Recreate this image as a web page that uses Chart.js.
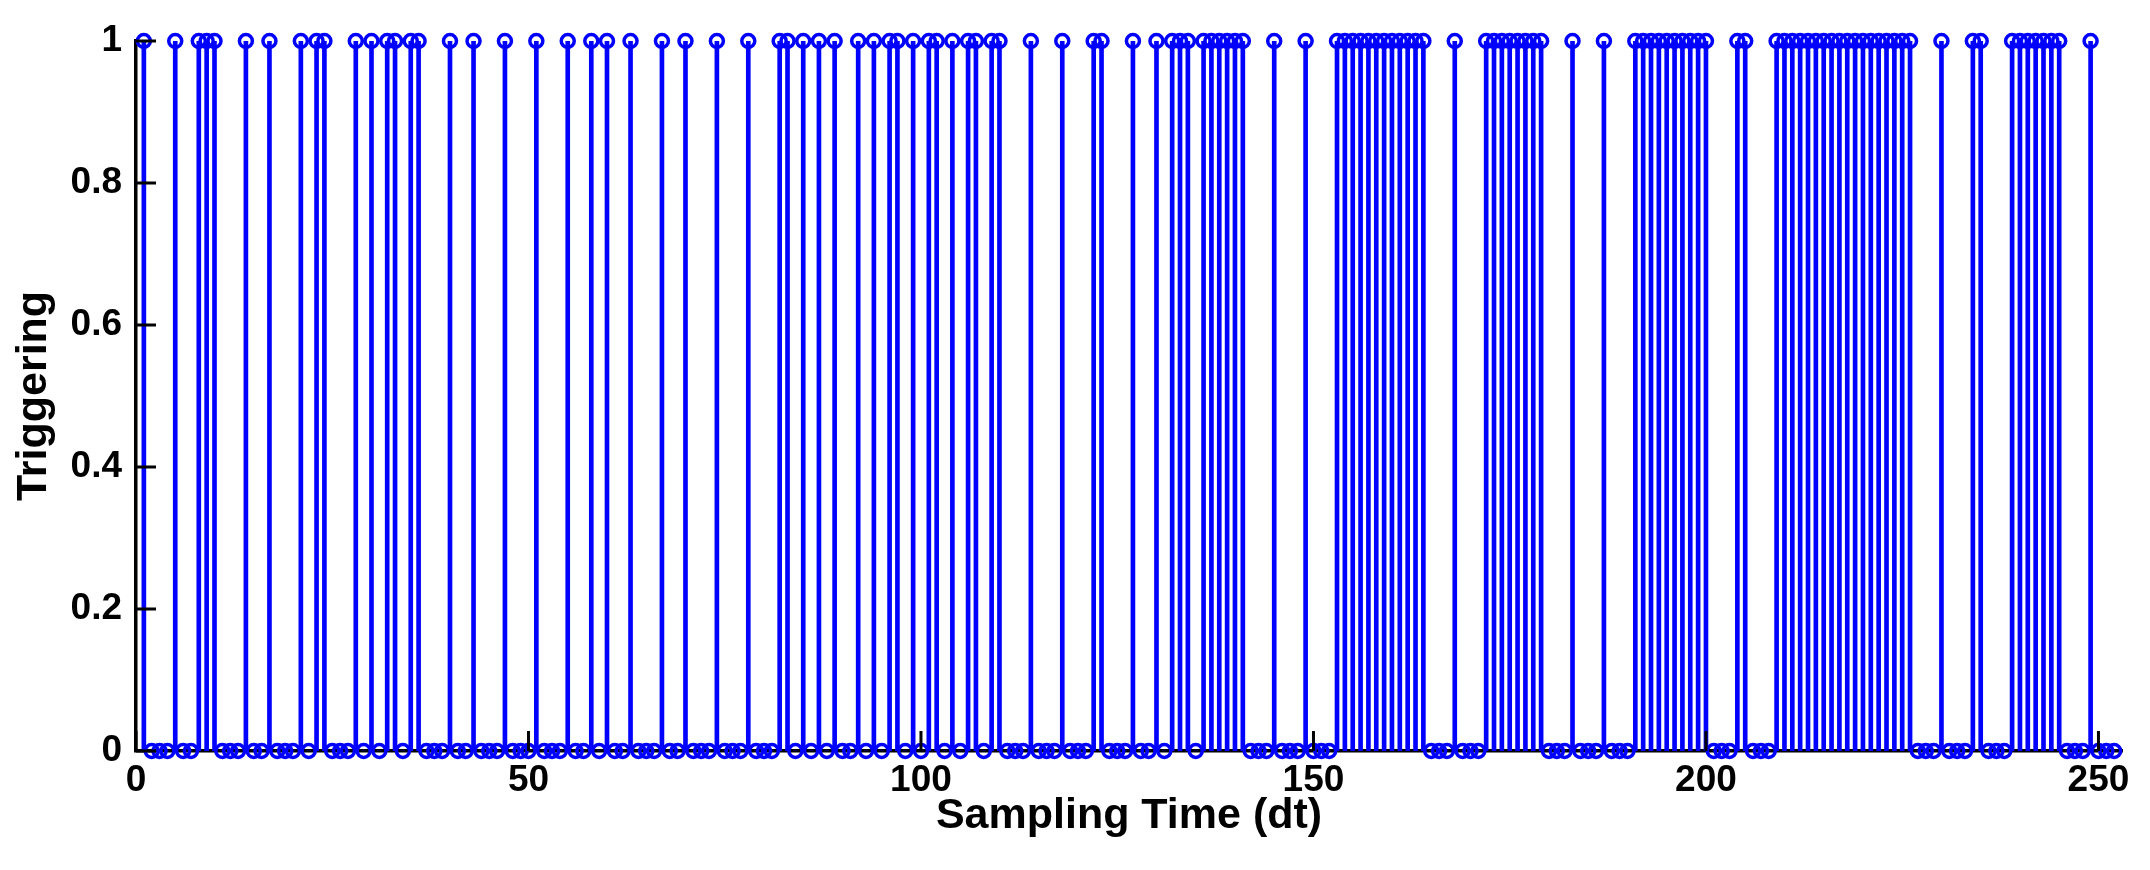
<!DOCTYPE html>
<html>
<head>
<meta charset="utf-8">
<title>Triggering</title>
<script src="https://cdn.jsdelivr.net/npm/chart.js@4.4.1/dist/chart.umd.min.js"></script>
<style>
  html, body { margin: 0; padding: 0; background: #fff; }
  canvas { display: block; }
</style>
</head>
<body>
<canvas id="stemChart" width="2150" height="870"></canvas>
<script>
// triggering state at every sampling step (t = 1, 2, 3, ...)
const triggering = [
  1,0,0,0,1,0,0,1,1,1,
  0,0,0,1,0,0,1,0,0,0,
  1,0,1,1,0,0,0,1,0,1,
  0,1,1,0,1,1,0,0,0,1,
  0,0,1,0,0,0,1,0,0,0,
  1,0,0,0,1,0,0,1,0,1,
  0,0,1,0,0,0,1,0,0,1,
  0,0,0,1,0,0,0,1,0,0,
  0,1,1,0,1,0,1,0,1,0,
  0,1,0,1,0,1,1,0,1,0,
  1,1,0,1,0,1,1,0,1,1,
  0,0,0,1,0,0,0,1,0,0,
  0,1,1,0,0,0,1,0,0,1,
  0,1,1,1,0,1,1,1,1,1,
  1,0,0,0,1,0,0,0,1,0,
  0,0,1,1,1,1,1,1,1,1,
  1,1,1,1,0,0,0,1,0,0,
  0,1,1,1,1,1,1,1,1,0,
  0,0,1,0,0,0,1,0,0,0,
  1,1,1,1,1,1,1,1,1,1,
  0,0,0,1,1,0,0,0,1,1,
  1,1,1,1,1,1,1,1,1,1,
  1,1,1,1,1,1,0,0,0,1,
  0,0,0,1,1,0,0,0,1,1,
  1,1,1,1,1,0,0,0,1,0,
  0,0
];
const xTicks = [0, 50, 100, 150, 200, 250];
const yTicks = [0, 0.2, 0.4, 0.6, 0.8, 1];
const xMax = 253;

const stemBlue = '#0000ff';
const fontFamily = "'Liberation Sans', Arial, Helvetica, sans-serif";

const samples = triggering.map((v, i) => ({ x: i + 1, y: v }));

// matlab style ticks pointing into the plot
const innerTicks = {
  id: 'innerTicks',
  afterDraw(chart) {
    const { ctx, chartArea, scales } = chart;
    ctx.save();
    ctx.strokeStyle = '#000';
    ctx.lineWidth = 3;
    ctx.beginPath();
    xTicks.forEach(v => {
      const px = scales.x.getPixelForValue(v);
      ctx.moveTo(px, chartArea.bottom);
      ctx.lineTo(px, chartArea.bottom - 20);
    });
    yTicks.forEach(v => {
      const py = scales.y.getPixelForValue(v);
      ctx.moveTo(chartArea.left, py);
      ctx.lineTo(chartArea.left + 20, py);
    });
    ctx.stroke();
    ctx.restore();
  }
};

new Chart(document.getElementById('stemChart'), {
  type: 'bar',
  data: {
    datasets: [
      {
        type: 'scatter',
        data: samples,
        showLine: false,
        pointStyle: 'circle',
        pointRadius: 6.5,
        pointBorderWidth: 3.5,
        pointBorderColor: stemBlue,
        pointBackgroundColor: 'rgba(0,0,0,0)',
        clip: false,
        order: 1
      },
      {
        type: 'bar',
        data: samples,
        backgroundColor: stemBlue,
        borderWidth: 0,
        barThickness: 4,
        order: 2
      }
    ]
  },
  plugins: [innerTicks],
  options: {
    responsive: false,
    animation: false,
    events: [],
    layout: { padding: { top: 41, right: 28, left: 0, bottom: 0 } },
    plugins: {
      legend: { display: false },
      tooltip: { enabled: false }
    },
    scales: {
      x: {
        type: 'linear',
        offset: false,
        min: 0,
        max: xMax,
        z: 1,
        afterBuildTicks: s => { s.ticks = xTicks.map(v => ({ value: v })); },
        afterFit: s => { s.height = 119; s.paddingLeft = 0; s.paddingRight = 0; },
        grid: { display: false, drawTicks: false, offset: false },
        border: { display: true, color: '#000', width: 3.5 },
        ticks: {
          padding: 8,
          color: '#000',
          maxRotation: 0,
          font: { family: fontFamily, size: 37, weight: 'bold' }
        },
        title: {
          display: true,
          text: 'Sampling Time (dt)',
          color: '#000',
          padding: { top: 0, bottom: 28 },
          font: { family: fontFamily, size: 43, weight: 'bold' }
        }
      },
      y: {
        type: 'linear',
        min: 0,
        max: 1,
        z: 1,
        afterBuildTicks: s => { s.ticks = yTicks.map(v => ({ value: v })); },
        afterFit: s => { s.width = 136; s.paddingTop = 0; s.paddingBottom = 0; },
        grid: { display: false, drawTicks: false },
        border: { display: true, color: '#000', width: 3.5 },
        ticks: {
          padding: 14,
          color: '#000',
          callback: v => String(v),
          font: { family: fontFamily, size: 37, weight: 'bold' }
        },
        title: {
          display: true,
          text: 'Triggering',
          color: '#000',
          padding: { top: 8, bottom: 0 },
          font: { family: fontFamily, size: 43, weight: 'bold' }
        }
      }
    }
  }
});
</script>
</body>
</html>
